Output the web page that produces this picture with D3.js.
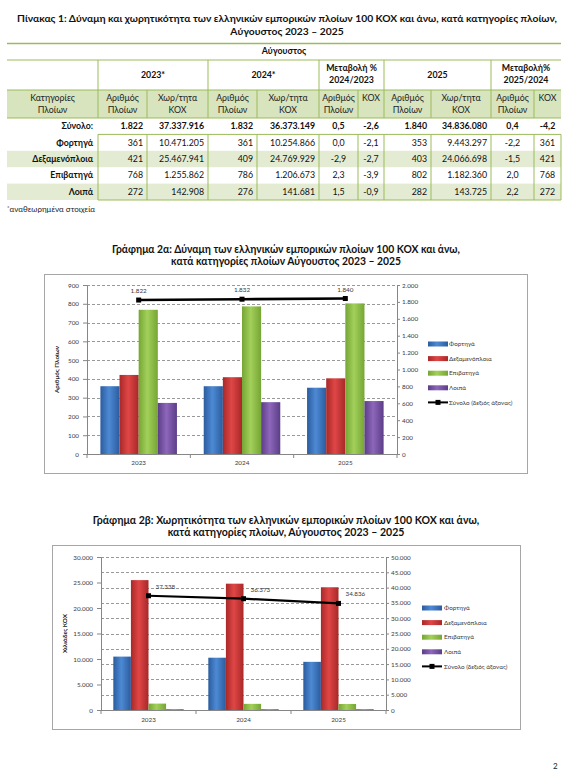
<!DOCTYPE html>
<html>
<head>
<meta charset="utf-8">
<script src="https://cdn.jsdelivr.net/npm/d3@7"></script>
<style>
  body { margin: 0; background: #fff; }
  svg { display: block; font-family: Lato, "Open Sans", sans-serif; }
</style>
</head>
<body>
<div id="page"></div>
<script>
// ---- data (Αύγουστος 2023-2025) ----
var years = ["2023", "2024", "2025"];
var categories = ["Φορτηγά", "Δεξαμενόπλοια", "Επιβατηγά", "Λοιπά"];

var ships2023 = [361, 421, 768, 272];
var ships2024 = [361, 409, 786, 276];
var ships2025 = [353, 403, 802, 282];
var shipsTotal = [1822, 1832, 1840];

var grt2023 = [10471205, 25467941, 1255862, 142908];
var grt2024 = [10254866, 24769929, 1206673, 141681];
var grt2025 = [9443297, 24066698, 1182360, 143725];
var grtTotal = [37337916, 36373149, 34836080];

var chgShips24 = [0.0, -2.9, 2.3, 1.5], chgShips24Total = 0.5;
var chgGrt24 = [-2.1, -2.7, -3.9, -0.9], chgGrt24Total = -2.6;
var chgShips25 = [-2.2, -1.5, 2.0, 2.2], chgShips25Total = 0.4;
var chgGrt25 = ["361", "421", "768", "272"], chgGrt25Total = -4.2; // as printed in the table

var shipTicksL = [0, 100, 200, 300, 400, 500, 600, 700, 800, 900];
var shipTicksR = [0, 200, 400, 600, 800, 1000, 1200, 1400, 1600, 1800, 2000];
var grtTicksL = [0, 5000, 10000, 15000, 20000, 25000, 30000];
var grtTicksR = [0, 5000, 10000, 15000, 20000, 25000, 30000, 35000, 40000, 45000, 50000];

var catColors = [["#2b5c9e", "#4d8ad4"], ["#a82828", "#e04646"], ["#76a535", "#a2d05a"], ["#5c3d88", "#8d67bb"]];

var W = 574, H = 782;
var gr = d3.formatLocale({decimal: ",", thousands: ".", grouping: [3], currency: ["", ""], minus: "-"});
var fmtInt = gr.format(",d"), fmtPct = gr.format(".1f");

var svg = d3.select("#page").append("svg").attr("width", W).attr("height", H);
svg.append("rect").attr("width", W).attr("height", H).attr("fill", "#fff");

var defs = svg.append("defs");
catColors.forEach(function(c, i) {
    var lg = defs.append("linearGradient").attr("id", "grad" + i)
        .attr("x1", 0).attr("x2", 1).attr("y1", 0).attr("y2", 0);
    lg.append("stop").attr("offset", "0%").attr("stop-color", c[0]);
    lg.append("stop").attr("offset", "45%").attr("stop-color", c[1]);
    lg.append("stop").attr("offset", "100%").attr("stop-color", c[0]);
});

// scale font so the line gets the width seen in the picture
function fitText(sel, w) {
    var fs = parseFloat(sel.attr("font-size"));
    var len = sel.node().getComputedTextLength();
    sel.attr("font-size", fs * w / len);
    return fs * w / len;
}

// ---- table ----
var green = "#9bbb59";
var colX = [7, 98, 147, 208, 257, 319, 358, 384, 431, 491, 534, 561];
var colType = ["label", "int", "int", "int", "int", "pct", "pct", "int", "int", "pct", "pct"];
var tbl = svg.append("g");

var t1 = tbl.append("text").attr("x", 287).attr("y", 22).attr("text-anchor", "middle")
    .attr("font-weight", "bold").attr("font-size", 11).attr("fill", "#111")
    .text("Πίνακας 1: Δύναμη και χωρητικότητα των ελληνικών εμπορικών πλοίων 100 ΚΟΧ και άνω, κατά κατηγορίες πλοίων,");
var tfs = fitText(t1, 540);
tbl.append("text").attr("x", 287).attr("y", 35).attr("text-anchor", "middle")
    .attr("font-weight", "bold").attr("font-size", tfs).attr("fill", "#111")
    .text("Αύγουστος 2023 – 2025");

var bodyTop = 118, rowH = 16.4;
var rows = [["Σύνολο:", shipsTotal[0], grtTotal[0], shipsTotal[1], grtTotal[1], chgShips24Total, chgGrt24Total,
    shipsTotal[2], grtTotal[2], chgShips25Total, chgGrt25Total]];
categories.forEach(function(c, i) {
    rows.push([c, ships2023[i], grt2023[i], ships2024[i], grt2024[i], chgShips24[i], chgGrt24[i],
        ships2025[i], grt2025[i], chgShips25[i], chgGrt25[i]]);
});

// backgrounds
tbl.append("rect").attr("x", colX[0]).attr("y", 90).attr("width", colX[11] - colX[0]).attr("height", bodyTop - 90)
    .attr("fill", "#d7e4bd");
rows.forEach(function(r, i) {
    if (i === 2 || i === 4) {
        tbl.append("rect").attr("x", colX[0]).attr("y", bodyTop + i * rowH).attr("width", colX[11] - colX[0])
            .attr("height", rowH).attr("fill", "#e3ecd2");
    }
});

function hline(y, xa, xb, w) {
    tbl.append("line").attr("x1", xa).attr("x2", xb).attr("y1", y).attr("y2", y)
        .attr("stroke", green).attr("stroke-width", w || 1);
}
function vline(x, ya, yb) {
    tbl.append("line").attr("x1", x).attr("x2", x).attr("y1", ya).attr("y2", yb)
        .attr("stroke", green).attr("stroke-width", 1);
}
hline(43.5, colX[0], colX[11], 1.3);
hline(60, colX[0], colX[11]);
hline(90, colX[0], colX[11]);
hline(bodyTop, colX[0], colX[11]);
hline(bodyTop + rowH, colX[1], colX[11]);
hline(bodyTop + 5 * rowH, colX[1], colX[11]);
[1, 3, 5, 7, 9].forEach(function(k) { vline(colX[k], 60, 90); });
d3.range(1, 11).forEach(function(k) { vline(colX[k], 90, bodyTop); });
d3.range(1, 12).forEach(function(k) { vline(colX[k], bodyTop + rowH, bodyTop + 5 * rowH); });

var fsT = 8.8;
tbl.append("text").attr("x", 284).attr("y", 54).attr("text-anchor", "middle").attr("font-weight", "bold")
    .attr("font-size", fsT).attr("fill", "#111").text("Αύγουστος");

var groups = [[1, 3, ["2023*"]], [3, 5, ["2024*"]], [5, 7, ["Μεταβολή %", "2024/2023"]],
    [7, 9, ["2025"]], [9, 11, ["Μεταβολή%", "2025/2024"]]];
groups.forEach(function(gp) {
    var cx = (colX[gp[0]] + colX[gp[1]]) / 2;
    gp[2].forEach(function(s, j) {
        tbl.append("text").attr("x", cx).attr("y", gp[2].length === 1 ? 78 : 71 + j * 12)
            .attr("text-anchor", "middle").attr("font-weight", "bold").attr("font-size", fsT)
            .attr("fill", "#111").text(s);
    });
});

var subHeads = [["Κατηγορίες", "Πλοίων"], ["Αριθμός", "Πλοίων"], ["Χωρ/τητα", "ΚΟΧ"], ["Αριθμός", "Πλοίων"],
    ["Χωρ/τητα", "ΚΟΧ"], ["Αριθμός", "Πλοίων"], ["ΚΟΧ"], ["Αριθμός", "Πλοίων"], ["Χωρ/τητα", "ΚΟΧ"],
    ["Αριθμός", "Πλοίων"], ["ΚΟΧ"]];
subHeads.forEach(function(lines, k) {
    var cx = (colX[k] + colX[k + 1]) / 2;
    lines.forEach(function(s, j) {
        tbl.append("text").attr("x", cx).attr("y", 101 + j * 12).attr("text-anchor", "middle")
            .attr("font-size", fsT).attr("fill", "#222").text(s);
    });
});

rows.forEach(function(r, i) {
    var y = bodyTop + i * rowH + rowH / 2;
    r.forEach(function(v, k) {
        var t = colType[k], txt, x, anchor;
        if (t === "label") { txt = v; x = colX[1] - 5; anchor = "end"; }
        else if (t === "int") { txt = fmtInt(v); x = colX[k + 1] - 4; anchor = "end"; }
        else { txt = typeof v === "string" ? v : fmtPct(v); x = (colX[k] + colX[k + 1]) / 2; anchor = "middle"; }
        tbl.append("text").attr("x", x).attr("y", y).attr("dy", "0.35em").attr("text-anchor", anchor)
            .attr("font-size", fsT).attr("font-weight", (i === 0 || k === 0) ? "bold" : null)
            .attr("fill", "#111").text(txt);
    });
});

var fn = tbl.append("text").attr("x", 7).attr("y", 212).attr("font-size", 8).attr("fill", "#222");
fn.append("tspan").attr("font-size", 6).attr("dy", -2).text("*");
fn.append("tspan").attr("dy", 2).text("αναθεωρημένα στοιχεία");

// ---- charts ----
function drawChart(o) {
    var g = svg.append("g");
    o.title.forEach(function(t, i) {
        var s = g.append("text").attr("x", 286).attr("y", o.titleY + i * 12).attr("text-anchor", "middle")
            .attr("font-weight", "bold").attr("font-size", o.titleSize).attr("fill", "#111").text(t);
        if (i === 0 && o.titleWidth) o.titleSize = fitText(s, o.titleWidth);
    });

    g.append("rect").attr("x", o.box[0] + 0.5).attr("y", o.box[1] + 0.5)
        .attr("width", o.box[2] - o.box[0]).attr("height", o.box[3] - o.box[1])
        .attr("fill", "#fff").attr("stroke", "#a6a6a6");

    var p = o.plot;
    var x = d3.scaleBand().domain(years).range([p[0], p[2]]);
    var xi = d3.scaleBand().domain(categories).range([0, x.bandwidth()]).paddingOuter(0.7);
    var yL = d3.scaleLinear().domain([0, o.ticksL[o.ticksL.length - 1]]).range([p[3], p[1]]);
    var yR = d3.scaleLinear().domain([0, o.ticksR[o.ticksR.length - 1]]).range([p[3], p[1]]);

    var gy = o.gridRight ? yR : yL, gt = o.gridRight ? o.ticksR : o.ticksL;
    g.append("g").selectAll("line").data(gt.filter(function(d) { return d > 0; })).join("line")
        .attr("x1", p[0]).attr("x2", p[2])
        .attr("y1", function(d) { return Math.round(gy(d)) + 0.5; })
        .attr("y2", function(d) { return Math.round(gy(d)) + 0.5; })
        .attr("stroke", "#7f7f7f").attr("stroke-width", 0.8).attr("stroke-dasharray", "3,2");

    var grp = g.append("g").selectAll("g").data(o.series).join("g")
        .attr("transform", function(d, i) { return "translate(" + x(years[i]) + ",0)"; });
    grp.selectAll("rect").data(function(d) { return d; }).join("rect")
        .attr("x", function(d, i) { return xi(categories[i]); })
        .attr("width", xi.bandwidth())
        .attr("y", function(d) { return yL(d); })
        .attr("height", function(d) { return yL(0) - yL(d); })
        .attr("fill", function(d, i) { return "url(#grad" + i + ")"; });

    function styleAxis(a) {
        a.attr("font-family", null).attr("font-size", 6.3);
        a.select(".domain").attr("stroke", "#868686");
        a.selectAll(".tick line").attr("stroke", "#868686");
        a.selectAll(".tick text").attr("fill", "#3a3a3a");
    }
    g.append("g").attr("transform", "translate(" + p[0] + ",0)")
        .call(d3.axisLeft(yL).tickValues(o.ticksL).tickFormat(fmtInt).tickSize(4).tickSizeOuter(0).tickPadding(4))
        .call(styleAxis);
    g.append("g").attr("transform", "translate(" + p[2] + ",0)")
        .call(d3.axisRight(yR).tickValues(o.ticksR).tickFormat(fmtInt).tickSize(3).tickSizeOuter(0).tickPadding(2))
        .call(styleAxis);

    // category axis: ticks on the boundaries, labels in the middle
    var xa = g.append("g");
    xa.append("line").attr("x1", p[0]).attr("x2", p[2]).attr("y1", p[3] + 0.5).attr("y2", p[3] + 0.5)
        .attr("stroke", "#868686");
    xa.selectAll(".xt").data(years.map(function(d) { return x(d); }).concat([p[2]])).join("line")
        .attr("class", "xt").attr("x1", function(d) { return d; }).attr("x2", function(d) { return d; })
        .attr("y1", p[3]).attr("y2", p[3] + 4).attr("stroke", "#868686");
    xa.selectAll("text").data(years).join("text")
        .attr("x", function(d) { return x(d) + x.bandwidth() / 2; }).attr("y", p[3] + o.xLabelDy)
        .attr("text-anchor", "middle").attr("font-size", 6.3).attr("fill", "#3a3a3a").text(function(d) { return d; });

    // y title
    g.append("text").attr("transform", "translate(" + o.yTitleX + "," + (p[1] + p[3]) / 2 + ") rotate(-90)")
        .attr("text-anchor", "middle").attr("dy", "0.35em").attr("font-weight", "bold").attr("font-size", 6.3)
        .attr("fill", "#222").text(o.yTitle);

    // total line on the right axis
    var line = d3.line()
        .x(function(d, i) { return x(years[i]) + x.bandwidth() / 2; })
        .y(function(d) { return yR(d); });
    g.append("path").attr("d", line(o.totals)).attr("fill", "none").attr("stroke", "#000").attr("stroke-width", o.lineW);
    g.selectAll(".mk").data(o.totals).join("rect").attr("class", "mk")
        .attr("x", function(d, i) { return x(years[i]) + x.bandwidth() / 2 - 2.5; })
        .attr("y", function(d) { return yR(d) - 2.5; })
        .attr("width", 5).attr("height", 5).attr("fill", "#000");
    g.selectAll(".tl").data(o.totals).join("text").attr("class", "tl")
        .attr("x", function(d, i) { return x(years[i]) + x.bandwidth() / 2 + o.labelDx; })
        .attr("y", function(d) { return yR(d) - 7; })
        .attr("text-anchor", o.labelDx ? "start" : "middle")
        .attr("font-size", 6.3).attr("fill", "#3a3a3a").text(function(d) { return fmtInt(Math.round(d)); });

    // legend
    var lg = g.append("g").attr("transform", "translate(" + o.legend[0] + "," + o.legend[1] + ")");
    var items = categories.concat(["Σύνολο (δεξιός άξονας)"]);
    items.forEach(function(name, i) {
        var yy = i * 14.6;
        if (i < categories.length) {
            lg.append("rect").attr("x", 0).attr("y", yy - 2.5).attr("width", 20).attr("height", 5)
                .attr("fill", "url(#grad" + i + ")");
        } else {
            lg.append("line").attr("x1", 0).attr("x2", 20).attr("y1", yy).attr("y2", yy)
                .attr("stroke", "#000").attr("stroke-width", 2);
            lg.append("rect").attr("x", 7.5).attr("y", yy - 2.5).attr("width", 5).attr("height", 5).attr("fill", "#000");
        }
        lg.append("text").attr("x", o.legendGap).attr("y", yy).attr("dy", "0.35em").attr("font-size", 6.3)
            .attr("fill", "#3a3a3a").text(name);
    });
}

drawChart({
    title: ["Γράφημα 2α: Δύναμη των ελληνικών εμπορικών πλοίων 100 ΚΟΧ και άνω,",
        "κατά κατηγορίες πλοίων Αύγουστος 2023 – 2025"],
    titleY: 253, titleSize: 10.5, titleWidth: 348,
    box: [44, 274, 527, 473], plot: [87, 285, 397, 454],
    ticksL: shipTicksL, ticksR: shipTicksR, gridRight: false,
    series: [ships2023, ships2024, ships2025], totals: shipsTotal,
    yTitle: "Αριθμός Πλοίων", yTitleX: 57, xLabelDy: 11, lineW: 2.6, labelDx: 0,
    legend: [428, 344], legendGap: 21
});

drawChart({
    title: ["Γράφημα 2β: Χωρητικότητα των ελληνικών εμπορικών πλοίων 100 ΚΟΧ και άνω,",
        "κατά κατηγορίες πλοίων, Αύγουστος 2023 – 2025"],
    titleY: 524, titleSize: 10.5, titleWidth: 387,
    box: [52, 545, 520, 729], plot: [101, 557, 386, 710],
    ticksL: grtTicksL, ticksR: grtTicksR, gridRight: true,
    series: [grt2023, grt2024, grt2025].map(function(a) { return a.map(function(v) { return v / 1000; }); }),
    totals: grtTotal.map(function(v) { return v / 1000; }),
    yTitle: "Χιλιάδες ΚΟΧ", yTitleX: 65, xLabelDy: 12, lineW: 2.2, labelDx: 7,
    legend: [422, 608], legendGap: 22
});

svg.append("text").attr("x", 553).attr("y", 769).attr("font-size", 8).attr("fill", "#222").text("2");
</script>
</body>
</html>
